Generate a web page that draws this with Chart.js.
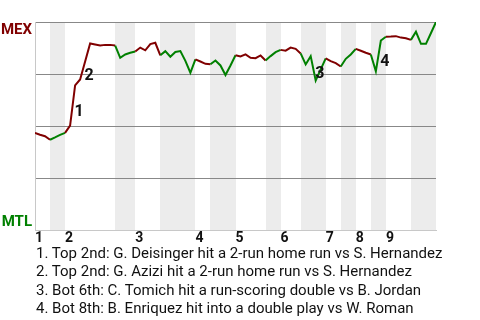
<!DOCTYPE html>
<html>
<head>
<meta charset="utf-8">
<script src="https://cdn.jsdelivr.net/npm/chart.js@4"></script>
<style>
  html, body { margin: 0; padding: 0; background: #fff; }
  #wrap { position: relative; width: 480px; height: 320px; }
  #notes { position: absolute; left: 36px; top: 243.5px; font: 15px Roboto, sans-serif; line-height: 18.5px; color: #111; white-space: nowrap; }
</style>
</head>
<body>
<div id="wrap">
  <canvas id="winProb" width="480" height="320"></canvas>
  <div id="notes"></div>
</div>
<script>
// Win probability chart -------------------------------------------------------------
// value = chance that MEX (away) wins, one point per plate appearance
const awayTeam = 'MEX';
const homeTeam = 'MTL';
const awayColor = '#800000';
const homeColor = '#008000';

// plate appearance index where each half inning begins
const topStarts = [0, 6, 20, 32, 40, 49, 58, 64, 70];
const botStarts = [3, 16, 25, 35, 46, 53, 61, 67, 75];
const gameEnd = 80;
const inningLabels = ['1', '2', '3', '4', '5', '6', '7', '8', '9'];

const winProb = [
    0.467, 0.458, 0.451, 0.434, 0.445, 0.457, 0.467, 0.502, 0.695, 0.724,
    0.810, 0.897, 0.892, 0.887, 0.890, 0.890, 0.887, 0.828, 0.844, 0.852,
    0.858, 0.877, 0.864, 0.894, 0.900, 0.840, 0.860, 0.833, 0.856, 0.860,
    0.813, 0.756, 0.820, 0.810, 0.799, 0.797, 0.815, 0.791, 0.745, 0.791,
    0.840, 0.834, 0.844, 0.828, 0.826, 0.839, 0.815, 0.836, 0.855, 0.866,
    0.862, 0.877, 0.871, 0.849, 0.796, 0.836, 0.719, 0.772, 0.825, 0.812,
    0.802, 0.786, 0.823, 0.844, 0.871, 0.862, 0.852, 0.844, 0.763, 0.911,
    0.929, 0.930, 0.932, 0.925, 0.922, 0.914, 0.953, 0.895, 0.895, 0.947,
    1.000
];

// key plays: index of the plate appearance that ends the play
const eventIdx = [8, 10, 56, 69];
const eventText = [
    'Top 2nd: G. Deisinger hit a 2-run home run vs S. Hernandez',
    'Top 2nd: G. Azizi hit a 2-run home run vs S. Hernandez',
    'Bot 6th: C. Tomich hit a run-scoring double vs B. Jordan',
    'Bot 8th: B. Enriquez hit into a double play vs W. Roman'
];

function isBottomHalf(x) {
    let start = -1, bottom = false;
    topStarts.forEach(s => { if (s <= x && s > start) { start = s; bottom = false } });
    botStarts.forEach(s => { if (s <= x && s > start) { start = s; bottom = true } });
    return bottom;
}

// grey bands behind each bottom half
const halfBands = {
    id: 'halfBands',
    beforeDraw(chart) {
        const { ctx, chartArea: { top, bottom }, scales: { x } } = chart;
        ctx.save();
        ctx.fillStyle = '#ececec';
        botStarts.forEach((s, i) => {
            const e = i + 1 < topStarts.length ? topStarts[i + 1] : gameEnd;
            const x0 = Math.round(x.getPixelForValue(s));
            const x1 = Math.round(x.getPixelForValue(e));
            ctx.fillRect(x0, top, x1 - x0, bottom - top);
        });
        ctx.restore();
    }
}

// team names at the two ends of the y axis
const teamLabels = {
    id: 'teamLabels',
    afterDraw(chart) {
        const { ctx, chartArea: { left }, scales: { y } } = chart;
        ctx.save();
        ctx.font = 'bold 15px Roboto';
        ctx.textAlign = 'right';
        ctx.textBaseline = 'alphabetic';
        ctx.fillStyle = awayColor;
        ctx.fillText(awayTeam, left - 3, y.getPixelForValue(1) + 12);
        ctx.fillStyle = homeColor;
        ctx.fillText(homeTeam, left - 3, y.getPixelForValue(0) - 4);
        ctx.restore();
    }
}

// numbered markers next to key plays
const eventMarks = {
    id: 'eventMarks',
    afterDatasetsDraw(chart) {
        const { ctx } = chart;
        const pts = chart.getDatasetMeta(0).data;
        ctx.save();
        ctx.font = 'bold 16px Roboto';
        ctx.textAlign = 'left';
        ctx.textBaseline = 'middle';
        ctx.fillStyle = '#111';
        eventIdx.forEach((k, i) => {
            const mx = (pts[k - 1].x + pts[k].x) / 2;
            const my = (pts[k - 1].y + pts[k].y) / 2;
            ctx.fillText(String(i + 1), mx + 2, my + 6);
        });
        ctx.restore();
    }
}

document.getElementById('notes').innerHTML =
    eventText.map((t, i) => '<div>' + (i + 1) + '. ' + t + '</div>').join('');

const wpChart = new Chart(document.getElementById('winProb'), {
    type: 'line',
    data: {
        datasets: [{
            data: winProb.map((v, i) => ({ x: i, y: v })),
            borderColor: awayColor,
            borderWidth: 2,
            pointRadius: 0,
            tension: 0,
            fill: false,
            segment: {
                borderColor: c => isBottomHalf(c.p0.parsed.x) ? homeColor : awayColor
            }
        }]
    },
    options: {
        responsive: false,
        animation: false,
        layout: { padding: { top: 22, right: 44, bottom: 70, left: 0 } },
        plugins: { legend: { display: false }, tooltip: { enabled: false } },
        scales: {
            x: {
                type: 'linear',
                min: 0,
                max: gameEnd,
                afterFit: s => { s.height = 20 },
                afterBuildTicks: s => { s.ticks = topStarts.map(v => ({ value: v })) },
                grid: { display: false, drawTicks: false },
                border: { color: '#c8c8c8' },
                ticks: {
                    autoSkip: false,
                    maxRotation: 0,
                    align: 'start',
                    padding: 0,
                    color: '#111',
                    font: { family: 'Roboto', size: 14, weight: 'bold' },
                    callback: (v, i) => inningLabels[i]
                }
            },
            y: {
                min: 0,
                max: 1,
                afterFit: s => { s.width = 35 },
                ticks: { display: false, stepSize: 0.25 },
                grid: { drawTicks: false, color: c => c.tick.value === 0 ? '#c8c8c8' : '#888' },
                border: { color: '#c8c8c8' }
            }
        }
    },
    plugins: [halfBands, teamLabels, eventMarks]
});
</script>
</body>
</html>
